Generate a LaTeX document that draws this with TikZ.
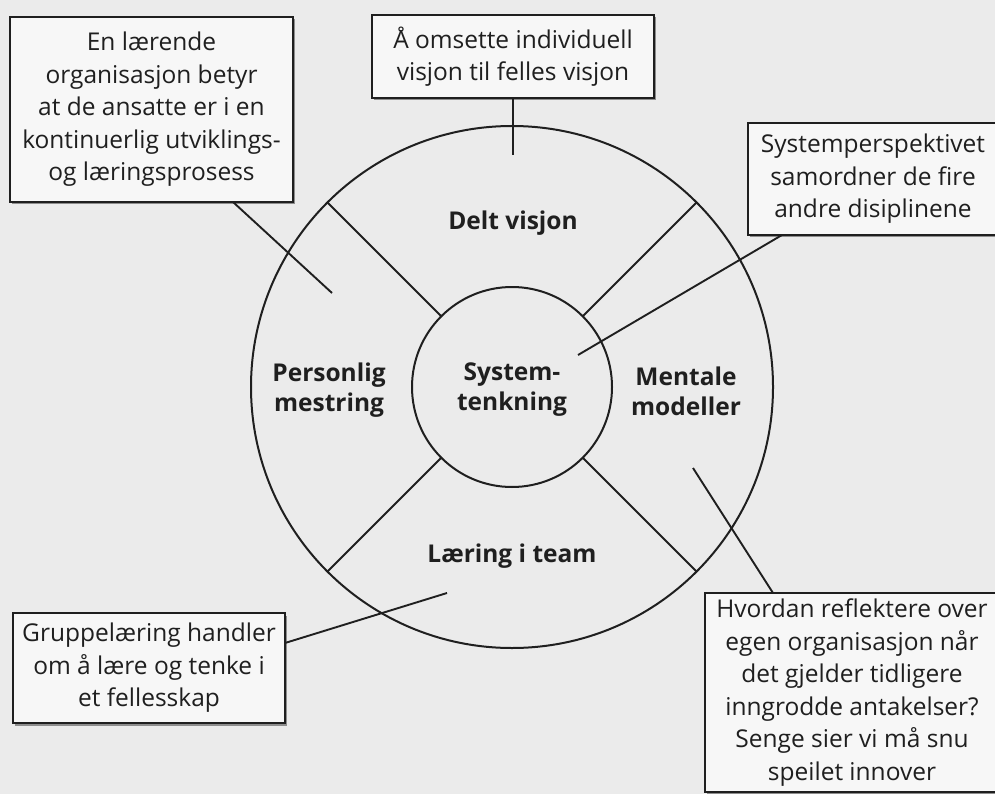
\documentclass[tikz,border=0pt]{standalone}
\usepackage{fontspec}
\setmainfont{Open Sans}
\usetikzlibrary{shadows}
\begin{document}
\begin{tikzpicture}[x=1pt,y=-1pt,
  ink/.style={draw=black!88, line width=2pt},
  lead/.style={draw=black!88, line width=1.9pt},
  callout/.style={ink, fill=black!3, align=center, inner sep=0pt, outer sep=0pt,
    font=\fontsize{24.5}{32.5}\selectfont, text=black!88,
    drop shadow={shadow xshift=2pt, shadow yshift=-2.5pt, opacity=0.55, fill=black!75}},
  disc/.style={font=\bfseries\fontsize{24.5}{30}\selectfont, align=center, text=black!88}]

% paper
\fill[black!8] (0,0) rectangle (995,794);
\useasboundingbox (0,0) rectangle (995,794);

% the two rings and the four spokes between them
\node[circle, ink, minimum size=522pt, inner sep=0pt, outer sep=0pt] (rim) at (512,387) {};
\node[circle, ink, minimum size=200pt, inner sep=0pt, outer sep=0pt] (hub) at (512,387) {};
\foreach \a in {45,135,225,315}
  \draw[ink] (hub.\a) -- (rim.\a);

% the five disciplines
\node[disc] (delt) at (513,223) {Delt visjon};
\node[disc] (pers) at (329,390) {Personlig\\mestring};
\node[disc] (syst) at (512,390) {System-\\tenkning};
\node[disc] (ment) at (686,391) {Mentale\\modeller};
\node[disc] (team) at (512,556) {Læring i team};

% free ends of the leader lines
\coordinate (e1) at (332,293);
\coordinate (e2) at (513,155);
\coordinate (e3) at (578,355);
\coordinate (e4) at (447,593);
\coordinate (e5) at (693,468);

% explanatory boxes
\node[callout, minimum width=283pt, minimum height=185pt] (b1) at (151.5,109.5)
  {En lærende\\organisasjon betyr\\at de ansatte er i en\\kontinuerlig utviklings-\\og læringsprosess};
\node[callout, minimum width=282pt, minimum height=83pt] (b2) at (513,56.5)
  {Å omsette individuell\\visjon til felles visjon};
\node[callout, minimum width=250pt, minimum height=112pt] (b3) at (873,179)
  {Systemperspektivet\\samordner de fire\\andre disiplinene};
\node[callout, minimum width=272pt, minimum height=110pt] (b4) at (149,668)
  {Gruppelæring handler\\om å lære og tenke i\\et fellesskap};
\node[callout, minimum width=294pt, minimum height=199pt] (b5) at (852,692.5)
  {Hvordan reflektere over\\egen organisasjon når\\det gjelder tidligere\\inngrodde antakelser?\\Senge sier vi må snu\\speilet innover};

% leader lines
\draw[lead] ([xshift=81.5pt]b1.south) -- (e1);
\draw[lead] (b2.south) -- (e2);
\draw[lead] ([xshift=-91pt]b3.south) -- (e3);
\draw[lead] ([yshift=25pt]b4.east) -- (e4);
\draw[lead] ([xshift=-79pt]b5.north) -- (e5);
\end{tikzpicture}
\end{document}
